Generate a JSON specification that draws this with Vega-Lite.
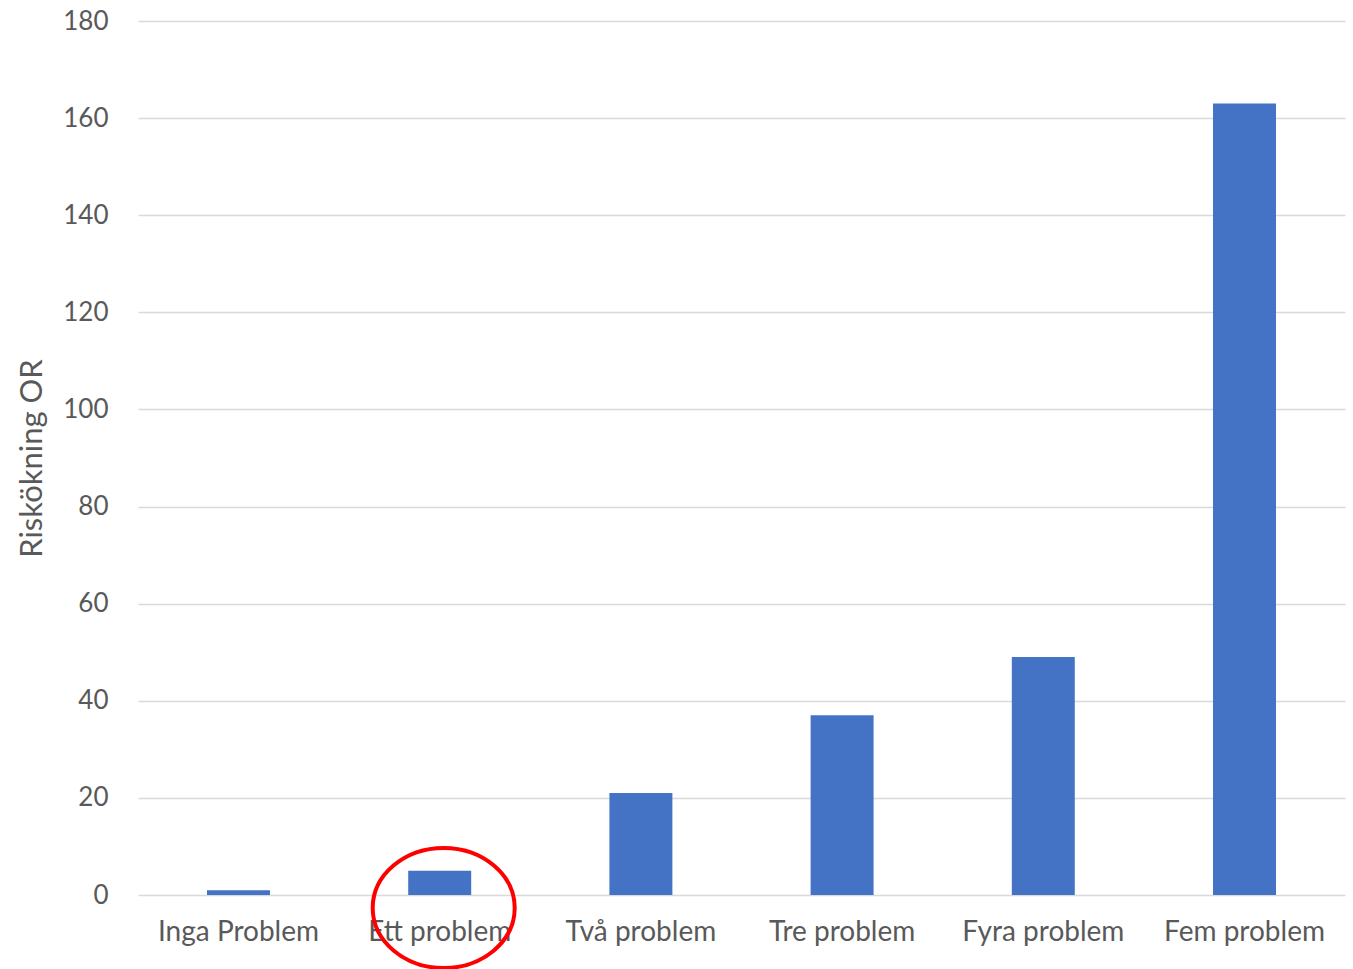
{
  "$schema": "https://vega.github.io/schema/vega-lite/v6.json",
  "width": 1207,
  "height": 874,
  "autosize": {"type": "none"},
  "padding": {"left": 138, "top": 21, "right": 8, "bottom": 74},
  "background": "white",
  "config": {
    "view": {"stroke": null},
    "font": "Lato"
  },
  "data": {
    "values": [
      {"kategori": "Inga Problem", "OR": 1},
      {"kategori": "Ett problem", "OR": 5},
      {"kategori": "Två problem", "OR": 21},
      {"kategori": "Tre problem", "OR": 37},
      {"kategori": "Fyra problem", "OR": 49},
      {"kategori": "Fem problem", "OR": 163}
    ]
  },
  "layer": [
    {
      "mark": {"type": "bar", "color": "#4472C4"},
      "encoding": {
        "x": {
          "field": "kategori",
          "type": "nominal",
          "sort": null,
          "scale": {"paddingInner": 0.687, "paddingOuter": 0.343},
          "axis": {
            "title": null,
            "labelAngle": 0,
            "labelFont": "Lato",
            "labelFontSize": 28,
            "labelColor": "#595959",
            "labelPadding": 23,
            "ticks": false,
            "domain": false
          }
        },
        "y": {
          "field": "OR",
          "type": "quantitative",
          "scale": {"domain": [0, 180], "nice": false},
          "axis": {
            "title": "Riskökning OR",
            "titleFont": "Lato",
            "titleFontSize": 31,
            "titleFontWeight": "normal",
            "titleColor": "#595959",
            "titlePadding": 14,
            "values": [0, 20, 40, 60, 80, 100, 120, 140, 160, 180],
            "labelFont": "Lato",
            "labelFontSize": 26,
            "labelColor": "#595959",
            "labelPadding": 30,
            "ticks": false,
            "domain": false,
            "grid": true,
            "gridColor": "#d9d9d9",
            "gridWidth": 1.5
          }
        }
      }
    },
    {
      "transform": [{"filter": "datum.kategori === 'Ett problem'"}],
      "mark": {
        "type": "point",
        "shape": "M -1 0 A 1 0.845 0 1 0 1 0 A 1 0.845 0 1 0 -1 0 Z",
        "filled": false,
        "stroke": "#FF0000",
        "strokeWidth": 4,
        "size": 20164,
        "opacity": 1,
        "xOffset": 4,
        "yOffset": 13
      },
      "encoding": {
        "x": {"field": "kategori", "type": "nominal", "sort": null},
        "y": {"datum": 0, "type": "quantitative"}
      }
    }
  ]
}
